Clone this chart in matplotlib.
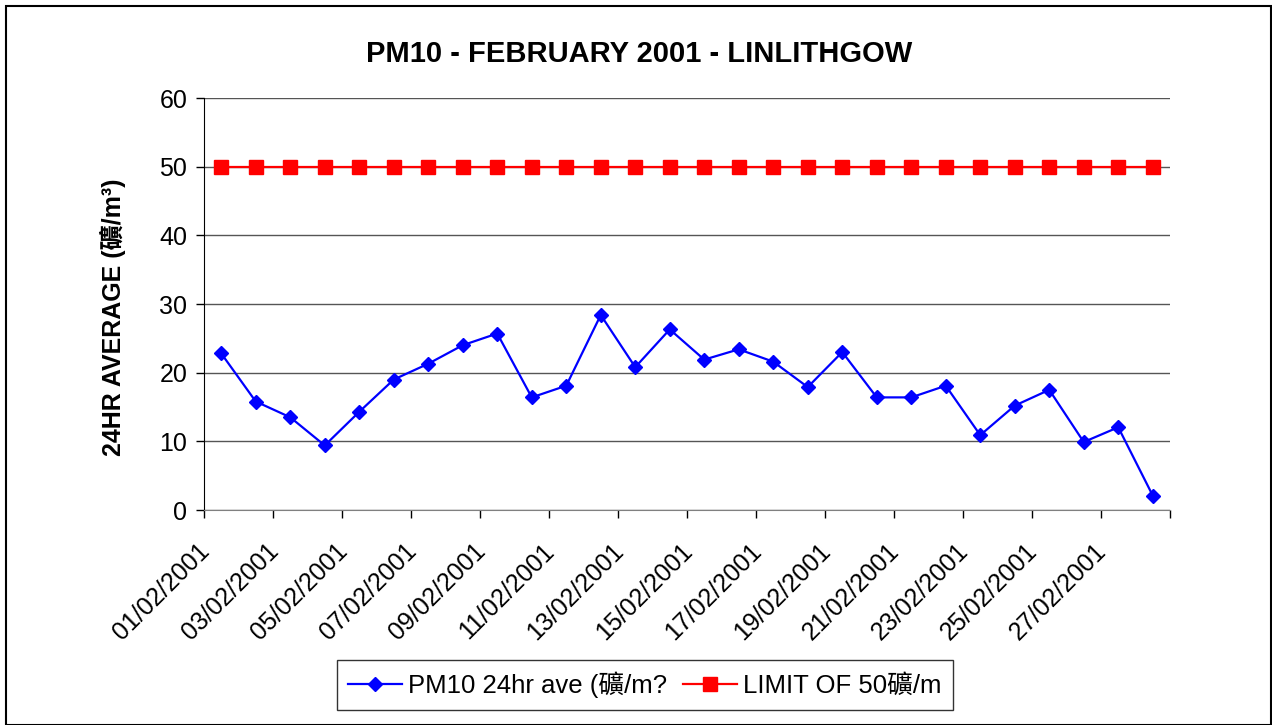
import matplotlib
matplotlib.use("Agg")
import matplotlib.pyplot as plt
from matplotlib.patches import Rectangle
from matplotlib.transforms import ScaledTranslation

plt.rcParams['font.family'] = ['Liberation Sans', 'Noto Sans CJK TC', 'DejaVu Sans']

dates = ["%02d/02/2001" % d for d in range(1, 29)]
pm10 = [22.8, 15.8, 13.5, 9.4, 14.3, 19.0, 21.3, 24.0, 25.7, 16.4, 18.1, 28.4, 20.8, 26.3,
        21.9, 23.4, 21.6, 17.9, 23.0, 16.4, 16.4, 18.1, 10.9, 15.2, 17.5, 9.9, 12.05, 2.1]
limit = [50] * 28
yticks = [0, 10, 20, 30, 40, 50, 60]
tick_labels = dates[::2]

W, H = 1272, 725
fig = plt.figure(figsize=(W / 100, H / 100), dpi=100)
ax = fig.add_axes([204 / W, 1 - 510 / H, 966 / W, 412 / H])

xpos = [i + 0.5 for i in range(len(dates))]
l1, = ax.plot(xpos, pm10, color='#0000FF', lw=1.6, marker='D', markersize=7.5,
              markeredgecolor='#0000FF', label='PM10 24hr ave (礦/m?')
l2, = ax.plot(xpos, limit, color='#FF0000', lw=1.6, marker='s', markersize=9.5,
              markeredgecolor='#FF0000', label='LIMIT OF 50礦/m')

ax.set_yticks(yticks)
ax.set_yticklabels([str(v) for v in yticks], fontsize=18)
# tick marks at category boundaries (every two days)
ax.set_xticks(list(range(0, 29, 2)))
ax.set_xticklabels(tick_labels + [''], rotation=45, ha='right',
                   rotation_mode='anchor', fontsize=18)
ax.set_xlim(0, 28)
ax.set_ylim(0, 60)
ax.tick_params(axis='both', direction='out', length=6, width=1, color='black')
ax.tick_params(axis='x', pad=14)
ax.tick_params(axis='y', pad=6)
shift = ScaledTranslation(-5 / 72, -1 / 72, fig.dpi_scale_trans)
for lab in ax.get_xticklabels():
    lab.set_transform(lab.get_transform() + shift)
ax.grid(axis='y', color='#555555', lw=1)
ax.set_axisbelow(True)
for s in ['top', 'right']:
    ax.spines[s].set_visible(False)
ax.spines['left'].set_color('black')
ax.spines['bottom'].set_color('#808080')

fig.text(639 / W, 1 - 61.5 / H, 'PM10 - FEBRUARY 2001 - LINLITHGOW', fontsize=21,
         fontweight='bold', ha='center', va='baseline')
fig.text(113 / W, 1 - 317 / H, '24HR AVERAGE (礦/m³)', fontsize=18, fontweight='bold',
         rotation=90, ha='center', va='center')

leg = fig.legend(handles=[l1, l2], loc='center', bbox_to_anchor=(645 / W, 1 - 685 / H),
                 ncol=2, fontsize=18.5, frameon=True, fancybox=False, edgecolor='black',
                 handlelength=2.1, columnspacing=0.6, handletextpad=0.25, borderpad=0.45)
leg.get_frame().set_linewidth(1)

fig.patches.append(Rectangle((6 / W, 0.0), 1 - 7 / W, 1 - 6 / H, transform=fig.transFigure,
                             fill=False, edgecolor='black', lw=1.5))

fig.savefig('out.png', dpi=100)
